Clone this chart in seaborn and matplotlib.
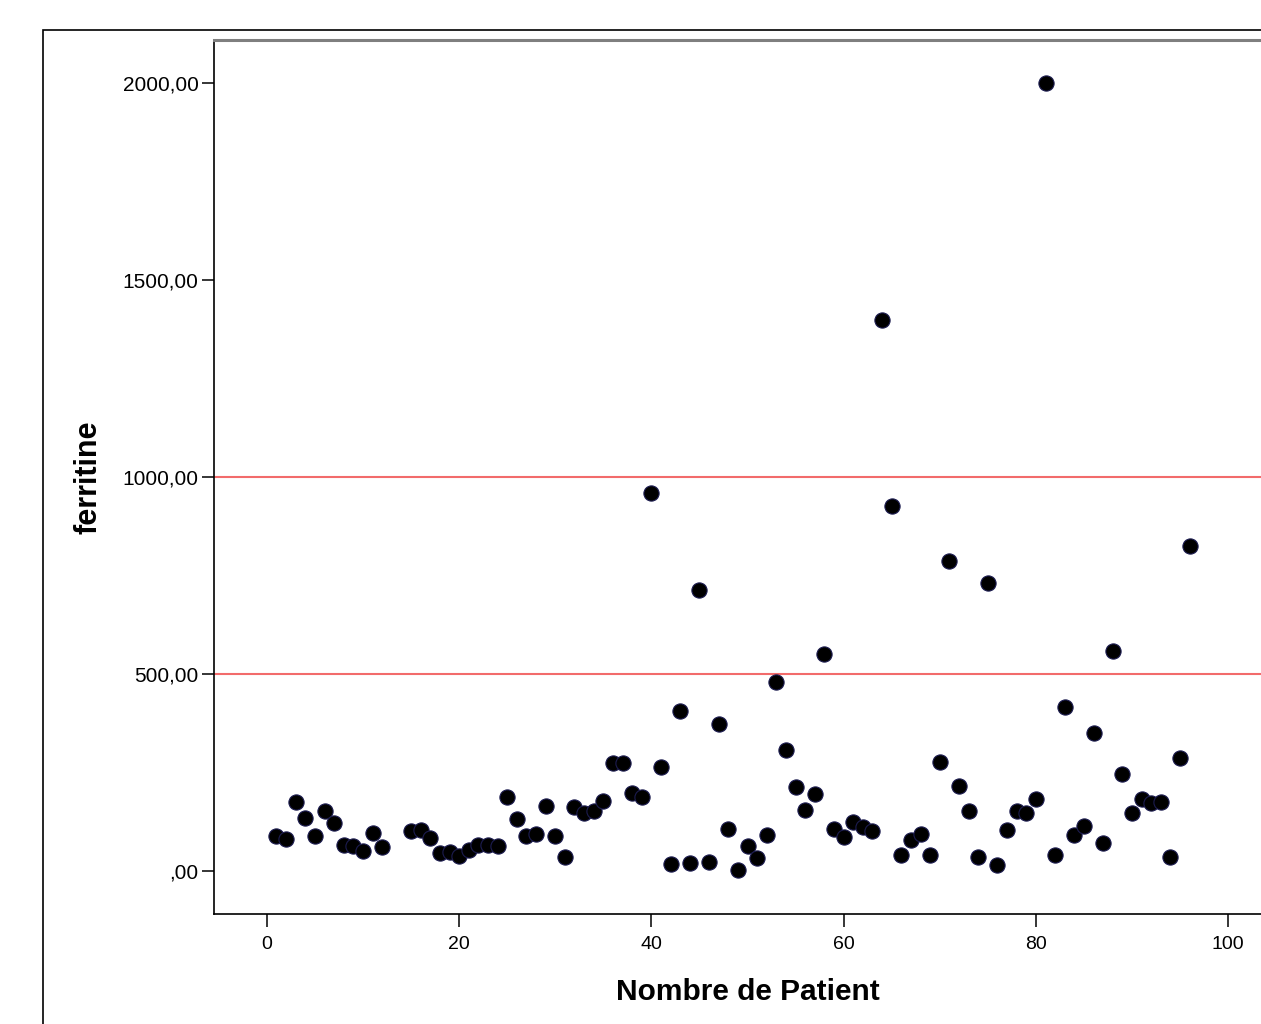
import pandas as pd
import matplotlib
matplotlib.use('Agg')
import matplotlib.pyplot as plt
from matplotlib.patches import Rectangle
from matplotlib.ticker import FuncFormatter
import seaborn as sns

patients = [1, 2, 3, 4, 5, 6, 7, 8, 9, 10, 11, 12,
            15, 16, 17, 18, 19, 20, 21, 22, 23, 24, 25, 26, 27, 28, 29, 30,
            31, 32, 33, 34, 35, 36, 37, 38, 39, 40, 41, 42, 43, 44, 45, 46,
            47, 48, 49, 50, 51, 52, 53, 54, 55, 56, 57, 58, 59, 60, 61, 62,
            63, 64, 65, 66, 67, 68, 69, 70, 71, 72, 73, 74, 75, 76, 77, 78,
            79, 80, 81, 82, 83, 84, 85, 86, 87, 88, 89, 90, 91, 92, 93, 94,
            95, 96]
ferritine = [89, 81, 175, 135, 89, 152, 122, 66, 63, 51, 96, 61,
             102, 104, 84, 46, 48, 38, 53, 66, 66, 63, 188, 132, 89, 94, 165, 89,
             36, 162, 147, 152, 178, 274, 274, 198, 188, 959, 264, 18, 406, 20, 713, 23,
             373, 107, 3, 63, 33, 91, 480, 307, 213, 155, 195, 551, 107, 86, 124, 112,
             102, 1398, 926, 41, 79, 94, 41, 277, 787, 216, 152, 36, 731, 15, 104, 152,
             147, 183, 2000, 41, 416, 91, 114, 350, 71, 558, 246, 147, 183, 173, 175, 36,
             287, 825]
seuils = [500, 1000]
x_ticks = [0, 20, 40, 60, 80, 100]
y_ticks = [0, 500, 1000, 1500, 2000]

df = pd.DataFrame({'Nombre de Patient': patients, 'ferritine': ferritine})

sns.set_style("white")
plt.rcParams['font.family'] = ['Liberation Sans', 'DejaVu Sans']
plt.rcParams['text.color'] = 'black'
plt.rcParams['axes.labelcolor'] = 'black'
plt.rcParams['xtick.color'] = 'black'
plt.rcParams['ytick.color'] = 'black'

fig = plt.figure(figsize=(12.61, 10.24), dpi=100)
fig.patches.append(Rectangle((43 / 1261, -0.05), 1.2, 0.05 + 994 / 1024,
                             transform=fig.transFigure, fill=False,
                             edgecolor='black', linewidth=1.2))
# the plot area runs past the right edge of the picture
ax = fig.add_axes([214 / 1261, 110 / 1024, (1282 - 214) / 1261, 874 / 1024])

for s in seuils:
    ax.axhline(s, color='#f26b6b', linewidth=1.5, zorder=1)

sns.scatterplot(data=df, x='Nombre de Patient', y='ferritine', ax=ax,
                s=120, color='black', edgecolor='#1c1c50', linewidth=0.8, zorder=3)

ax.set_xlim(-5.5, 105.6)
ax.set_ylim(-109, 2109)
ax.set_xticks(x_ticks)
ax.set_yticks(y_ticks)
ax.yaxis.set_major_formatter(FuncFormatter(
    lambda v, p: ',00' if v == 0 else f"{v:.2f}".replace('.', ',')))

ax.spines['right'].set_visible(False)
ax.spines['top'].set_color('#7f7f7f')
ax.spines['top'].set_linewidth(2.2)
ax.spines['left'].set_linewidth(1.2)
ax.spines['bottom'].set_linewidth(1.2)
ax.spines['left'].set_color('black')
ax.spines['bottom'].set_color('black')

ax.tick_params(axis='both', direction='out', length=9, width=1.1,
               color='black', bottom=True, left=True)
ax.tick_params(axis='y', labelsize=15, pad=2)
ax.tick_params(axis='x', labelsize=14, pad=7)

ax.set_xlabel('Nombre de Patient', fontsize=21.5, fontweight='bold', labelpad=18)
ax.set_ylabel('ferritine', fontsize=22, fontweight='bold', labelpad=14)

fig.savefig('out.png', dpi=100)
